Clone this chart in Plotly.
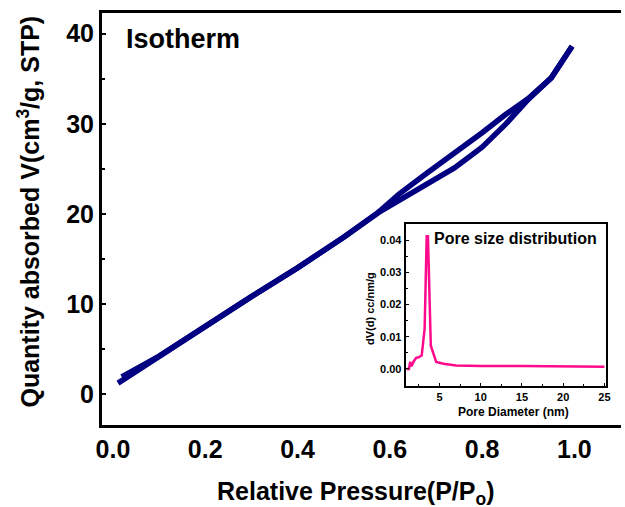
import plotly.graph_objects as go

# Isotherm data (P/P0, volume cm3/g STP)
ads_x = [0.011, 0.10, 0.20, 0.30, 0.40, 0.50, 0.574, 0.62, 0.68, 0.74, 0.80, 0.85, 0.90, 0.950, 0.995]
ads_y = [1.2, 4.2, 7.5, 10.8, 14.0, 17.4, 20.1, 21.5, 23.2, 25.1, 27.4, 29.9, 32.7, 35.1, 38.6]
des_x = [0.995, 0.950, 0.90, 0.85, 0.80, 0.74, 0.68, 0.62, 0.574, 0.50, 0.40, 0.30, 0.20, 0.10, 0.019]
des_y = [38.6, 35.1, 32.8, 31.0, 29.0, 26.8, 24.5, 22.2, 20.1, 17.4, 14.0, 10.8, 7.5, 4.2, 1.9]

# Pore size distribution
psd_x = [1.0, 1.3, 1.45, 1.6, 1.9, 2.2, 2.5, 2.85, 3.2, 3.45, 3.6, 3.95, 4.6, 5.5, 7.0, 10.0, 15.0, 20.0, 25.0]
psd_y = [0.0, 0.0, 0.0022, 0.0008, 0.0025, 0.0035, 0.0036, 0.0042, 0.0125, 0.0412, 0.0412, 0.0072,
         0.0022, 0.0016, 0.0011, 0.0009, 0.0009, 0.0008, 0.0007]

main_xticks = [0.0, 0.2, 0.4, 0.6, 0.8, 1.0]
main_yticks = [0, 10, 20, 30, 40]
inset_xticks = [5, 10, 15, 20, 25]
inset_yticks = [0.00, 0.01, 0.02, 0.03, 0.04]

W, H = 625, 507
L, R, T, B = 102, 0, 13, 82
PW, PH = W - L - R, H - T - B

def fx(px):
    return (px - L) / PW

def fy(py):
    return (H - B - py) / PH

NAVY = "#000080"
PINK = "#ff0a8c"
FONT = "Liberation Sans"

fig = go.Figure()
fig.add_trace(go.Scatter(x=ads_x, y=ads_y, mode="lines", line=dict(color=NAVY, width=5.5),
                         showlegend=False))
fig.add_trace(go.Scatter(x=des_x, y=des_y, mode="lines", line=dict(color=NAVY, width=5.5),
                         showlegend=False))
fig.add_trace(go.Scatter(x=psd_x, y=psd_y, mode="lines", line=dict(color=PINK, width=2.5),
                         xaxis="x2", yaxis="y2", showlegend=False))

fig.update_layout(
    width=W, height=H,
    margin=dict(l=L, r=R, t=T, b=B),
    paper_bgcolor="white", plot_bgcolor="white",
    font=dict(family=FONT, color="black"),
    xaxis=dict(
        domain=[0, 1], range=[-0.0237, 1.101],
        tickvals=main_xticks, ticktext=[f"{v:.1f}" for v in main_xticks],
        tickfont=dict(size=25, family=FONT, weight="bold"),
        ticks="", showgrid=False, zeroline=False,
        showline=True, linecolor="black", linewidth=3, mirror=True,
    ),
    yaxis=dict(
        domain=[0, 1], range=[-3.45, 42.3],
        tickvals=main_yticks, ticktext=[str(v) for v in main_yticks],
        tickfont=dict(size=25, family=FONT, weight="bold"),
        ticks="inside", ticklen=4, tickwidth=2, tickcolor="black",
        minor=dict(dtick=5, tick0=0, ticks="inside", ticklen=3, tickwidth=2, tickcolor="black"),
        showgrid=False, zeroline=False,
        showline=True, linecolor="black", linewidth=3,
    ),
    xaxis2=dict(
        domain=[fx(408), fx(610)], anchor="y2", range=[0.9, 25.2],
        tickvals=inset_xticks, ticktext=[str(v) for v in inset_xticks],
        tickfont=dict(size=11, family=FONT, weight="bold"),
        ticks="inside", ticklen=3, tickwidth=1, tickcolor="black",
        minor=dict(dtick=2.5, tick0=0, ticks="inside", ticklen=2, tickwidth=1, tickcolor="black"),
        showgrid=False, zeroline=False,
        showline=True, linecolor="black", linewidth=2, mirror=True,
    ),
    yaxis2=dict(
        domain=[fy(386), fy(224)], anchor="x2", range=[-0.0053, 0.045],
        tickvals=inset_yticks, ticktext=[f"{v:.2f}" for v in inset_yticks],
        tickfont=dict(size=11, family=FONT, weight="bold"),
        ticks="inside", ticklen=3, tickwidth=1, tickcolor="black",
        minor=dict(dtick=0.005, tick0=0, ticks="inside", ticklen=2, tickwidth=1, tickcolor="black"),
        showgrid=False, zeroline=False,
        showline=True, linecolor="black", linewidth=2, mirror=True,
    ),
    shapes=[dict(type="rect", xref="paper", yref="paper", x0=fx(408), x1=fx(610),
                 y0=fy(386), y1=fy(224), fillcolor="white", line=dict(width=0), layer="below")],
)

ann = [
    dict(text="<b>Isotherm</b>", x=fx(124), y=fy(39), xanchor="left", yanchor="middle",
         font=dict(size=27)),
    dict(text="<b>Quantity absorbed V(cm<sup>3</sup>/g, STP)</b>", x=fx(28), y=fy(212),
         textangle=-90, xanchor="center", yanchor="middle", font=dict(size=25)),
    dict(text="<b>Relative Pressure(P/P<sub>o</sub>)</b>", x=fx(358), y=fy(493),
         xanchor="center", yanchor="middle", font=dict(size=25)),
    dict(text="<b>Pore size distribution</b>", x=fx(519), y=fy(238),
         xanchor="center", yanchor="middle", font=dict(size=16)),
    dict(text="<b>dV(d) cc/nm/g</b>", x=fx(372), y=fy(308), textangle=-90,
         xanchor="center", yanchor="middle", font=dict(size=11)),
    dict(text="<b>Pore Diameter (nm)</b>", x=fx(517), y=fy(412),
         xanchor="center", yanchor="middle", font=dict(size=12)),
]
for a in ann:
    a.update(xref="paper", yref="paper", showarrow=False)
    a["font"].update(family=FONT, color="black")
fig.update_layout(annotations=ann)

fig.write_html("out.html", config={"displayModeBar": False},
               post_script="document.body.style.margin='0px';document.body.style.overflow='hidden';")
